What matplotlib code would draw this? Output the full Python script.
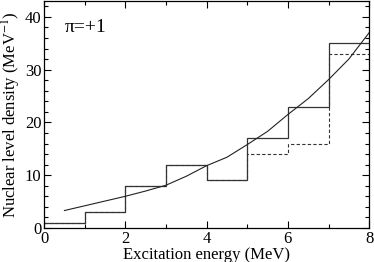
import matplotlib
matplotlib.use("Agg")
import matplotlib.pyplot as plt
import numpy as np

plt.rcParams['font.family'] = ['Liberation Serif', 'DejaVu Serif']
plt.rcParams['mathtext.fontset'] = 'stix'

# histogram bins (MeV) and level counts
edges = [0, 1, 2, 3, 4, 5, 6, 7, 8]
solid_counts = [1, 3, 8, 12, 9, 17, 23, 35]
dashed_counts = [1, 3, 8, 12, 9, 14, 16, 33]

# level density curve
curve_e = [0.5, 1.0, 1.5, 2.0, 2.5, 3.0, 3.5, 4.0, 4.5, 5.0, 5.5, 6.0, 6.5, 7.0, 7.5, 8.0]
curve_rho = [3.3, 4.2, 5.1, 6.0, 7.0, 8.1, 9.8, 11.8, 13.4, 15.8, 18.3, 21.5, 24.5, 28.1, 32.0, 37.0]

fig = plt.figure(figsize=(3.74, 2.62), dpi=100)
ax = fig.add_axes([0.118, 0.13, 0.869, 0.866])

ax.stairs(dashed_counts, edges, baseline=None, color='#333333', lw=0.8, ls=(0, (3, 2)))
ax.stairs(solid_counts, edges, baseline=None, color='#333333', lw=0.9)
ax.plot(curve_e, curve_rho, color='#222222', lw=0.8)

ax.set_xlim(0, 8)
ax.set_ylim(0, 43)
ax.set_xticks([0, 2, 4, 6, 8])
ax.set_xticks(np.arange(0, 9, 1), minor=True)
ax.set_yticks([0, 10, 20, 30, 40])
ax.set_yticks(np.arange(0, 43, 2), minor=True)
ax.tick_params(which='both', direction='in', top=True, right=True, labelsize=12, pad=2)
ax.tick_params(which='major', length=5, width=0.8)
ax.tick_params(which='minor', length=3, width=0.8)
for s in ax.spines.values():
    s.set_linewidth(0.9)

ax.set_xlabel('Excitation energy (MeV)', fontsize=12, labelpad=0)
ax.set_ylabel('Nuclear level density (MeV$^{-1}$)', fontsize=12, labelpad=1)
ax.text(0.5, 37.9, '\u03c0=+1', fontsize=14, va='center')

fig.savefig('out.png', dpi=100)
